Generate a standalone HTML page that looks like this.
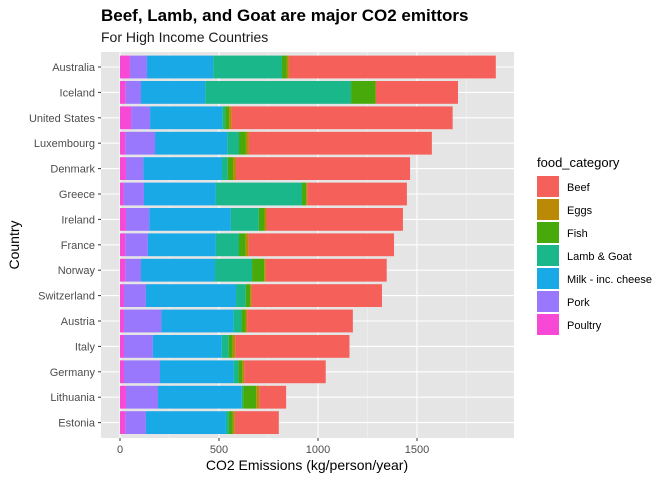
<!DOCTYPE html>
<html><head><meta charset="utf-8"><style>
body{margin:0;background:#fff;font-family:"Liberation Sans",sans-serif;}
</style></head><body>
<svg id="chart" width="672" height="480" xmlns="http://www.w3.org/2000/svg">
<text x="101" y="21" font-size="17" font-weight="bold" fill="#000">Beef, Lamb, and Goat are major CO2 emittors</text>
<text x="101" y="42" font-size="14" fill="#1a1a1a">For High Income Countries</text>
<rect x="101" y="52" width="413" height="386" fill="#e5e5e5"/>
<g id="grid"></g><g id="bars"></g><g id="axes"></g><g id="legend"></g>
<text x="307" y="470" font-size="14" text-anchor="middle" fill="#000">CO2 Emissions (kg/person/year)</text>
<text transform="translate(19,245) rotate(-90)" font-size="14" text-anchor="middle" fill="#000">Country</text>
</svg>
<script>
const countries=["Australia","Iceland","United States","Luxembourg","Denmark","Greece","Ireland","France","Norway","Switzerland","Austria","Italy","Germany","Lithuania","Estonia"];
const categories=["Poultry","Pork","Milk - inc. cheese","Lamb & Goat","Fish","Eggs","Beef"];
const poultry=[50,29,56,27,30,18,30,27,27,20,20,20,20,30,27];
const pork=[86,77,96,150,88,103,118,114,79,111,189,146,182,162,104];
const milk=[335,325,364,365,397,362,412,342,374,455,365,348,372,423,404];
const lamb=[347,736,15,59,29,436,141,118,187,49,40,35,24,7,15];
const fish=[25,123,20,35,27,22,29,34,61,22,20,20,20,66,20];
const eggs=[10,3,13,15,15,5,10,15,8,8,8,13,10,15,10];
const beef=[1045,414,1116,924,879,503,689,734,611,658,534,577,411,136,222];
const xTicks=[0,500,1000,1500];
const colors=["#f748d6","#9a78fd","#19a9e6","#19b789","#47a90a","#ba8a06","#f5605b"];
const series=[poultry,pork,milk,lamb,fish,eggs,beef];
const NS="http://www.w3.org/2000/svg";
const x=v=>120+v*0.198;
const y=i=>67+i*25.4;
function mk(tag,attrs,parent){const e=document.createElementNS(NS,tag);for(const k in attrs)e.setAttribute(k,attrs[k]);parent.appendChild(e);return e;}
const grid=document.getElementById('grid'),bars=document.getElementById('bars'),axes=document.getElementById('axes'),legend=document.getElementById('legend');
for(let v=250;v<1900;v+=500){const l=mk('line',{x1:x(v),x2:x(v),y1:52,y2:438,stroke:'#f2f2f2','stroke-width':0.6},grid);}
xTicks.forEach(v=>{const l=mk('line',{x1:x(v),x2:x(v),y1:52,y2:438,stroke:'#fff','stroke-width':1.1},grid);
const t=mk('line',{x1:x(v),x2:x(v),y1:438,y2:441,stroke:'#333'},axes);
const tx=mk('text',{x:x(v),y:453,'font-size':11,'text-anchor':'middle',fill:'#4d4d4d'},axes);tx.textContent=v;});
countries.forEach((c,i)=>{const l=mk('line',{x1:101,x2:514,y1:y(i),y2:y(i),stroke:'#fff','stroke-width':1.1},grid);
let cum=0;series.forEach((s,k)=>{const r=mk('rect',{x:x(cum),y:y(i)-11.4,width:s[i]*0.198,height:22.8,fill:colors[k]},bars);cum+=s[i];});
const t=mk('line',{x1:98,x2:101,y1:y(i),y2:y(i),stroke:'#333'},axes);
const tx=mk('text',{x:95,y:y(i)+4,'font-size':11,'text-anchor':'end',fill:'#4d4d4d'},axes);tx.textContent=c;});
const lt=mk('text',{x:537,y:167,'font-size':13,fill:'#000'},legend);lt.textContent='food_category';
for(let j=0;j<7;j++){const k=6-j;const yy=176+j*23;
const r=mk('rect',{x:537,y:yy,width:22,height:21,fill:colors[k]},legend);
const t=mk('text',{x:567,y:yy+15,'font-size':11,fill:'#000'},legend);t.textContent=categories[k];}
</script>
</body></html>
